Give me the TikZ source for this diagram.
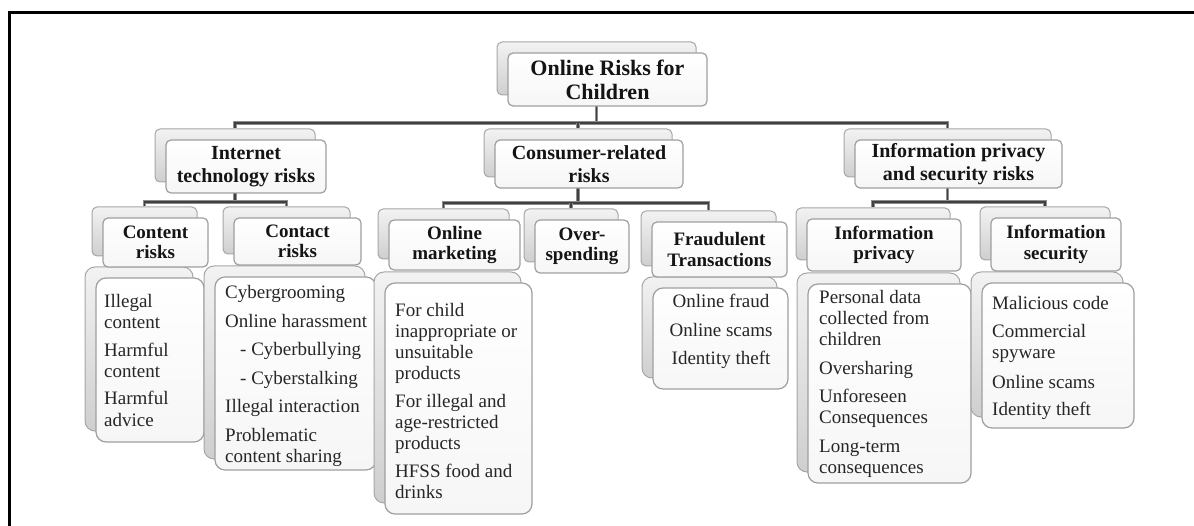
\documentclass[tikz,border=0pt]{standalone}
\usepackage{fontspec}
\setmainfont{Liberation Serif}
\usetikzlibrary{backgrounds}
\tikzset{
  x=1pt, y=-1pt,
  backbox/.style={draw=gray!70, line width=1pt, rounded corners=#1, top color=gray!10, bottom color=gray!38, inner sep=0pt},
  frontbox/.style={draw=gray!75, line width=1.2pt, rounded corners=#1, top color=white, bottom color=gray!7, inner sep=0pt, text=black!92, align=center},
  conn/.style={draw=black!45, line width=3.8pt, postaction={draw=black!75, line width=1.6pt}},
  itemtext/.style={inner sep=0pt, font=\fontsize{19}{21}\selectfont, text=black!85},
  frame/.style={draw=black, line width=3pt},
}
\newcommand{\pairbox}[8]{%
  \node[backbox=#6, minimum width={(#4-#2)*1pt}, minimum height={(#5-#3)*1pt}] (#1B) at ({(#2+#4)/2-11},{(#3+#5)/2-11}) {};
  \node[frontbox=#6, minimum width={(#4-#2)*1pt}, minimum height={(#5-#3)*1pt}, font=#7] (#1) at ({(#2+#4)/2},{(#3+#5)/2}) {#8};
}
\newcommand{\fa}{\fontsize{22}{24}\selectfont\bfseries}
\newcommand{\fb}{\fontsize{20}{22.5}\selectfont\bfseries}
\newcommand{\fc}{\fontsize{19}{20.5}\selectfont\bfseries}
\begin{document}
\begin{tikzpicture}
\useasboundingbox (0,0) rectangle (1194,526);
\coordinate (fA) at (9.5,526);
\coordinate (fB) at (9.5,12.5);
\coordinate (fC) at (1194,12.5);
\draw[frame] (fA) -- (fB) -- (fC);

% item boxes
\pairbox{contentI}{96}{278}{204}{442}{10pt}{}{}
\pairbox{contactI}{215}{277}{376}{470}{10pt}{}{}
\pairbox{omI}{385}{283}{532}{514}{10pt}{}{}
\pairbox{fraudI}{653}{288}{788}{389}{10pt}{}{}
\pairbox{privI}{808}{284}{971}{483}{10pt}{}{}
\pairbox{secI}{982}{283}{1134}{428}{10pt}{}{}

% headers
\pairbox{root}{508}{53}{707}{106}{5pt}{\fa}{Online Risks for\\Children}
\pairbox{it}{166}{140}{326}{193}{5pt}{\fb}{Internet\\technology risks}
\pairbox{cons}{495}{140}{683}{188}{5pt}{\fb}{Consumer-related\\risks}
\pairbox{info}{855}{140}{1062}{188}{5pt}{\fb}{Information privacy\\and security risks}
\pairbox{content}{103}{218}{208}{267}{5pt}{\fc}{Content\\risks}
\pairbox{contact}{234}{218}{361}{265}{5pt}{\fc}{Contact\\risks}
\pairbox{om}{389}{220}{520}{270}{5pt}{\fc}{Online\\marketing}
\pairbox{over}{535}{220}{629}{273}{5pt}{\fc}{Over-\\spending}
\pairbox{fraud}{652}{222}{787}{277}{5pt}{\fc}{Fraudulent\\Transactions}
\pairbox{priv}{807}{219}{961}{271}{5pt}{\fc}{Information\\privacy}
\pairbox{sec}{991}{218}{1121}{271}{5pt}{\fc}{Information\\security}

% item texts (anchored at the baseline of their last line)
\node[itemtext, anchor=base west, align=left] (contentT) at (104,426)
  {Illegal\\content\\[7pt]Harmful\\content\\[7pt]Harmful\\advice};
\node[itemtext, anchor=base west, align=left] (contactT) at (225,462)
  {Cybergrooming\\[7.5pt]Online harassment\\[7.5pt]\hspace*{15pt}- Cyberbullying\\[7.5pt]\hspace*{15pt}- Cyberstalking\\[7.5pt]Illegal interaction\\[7.5pt]Problematic\\content sharing};
\node[itemtext, anchor=base west, align=left] (omT) at (395,498)
  {For child\\inappropriate or\\unsuitable\\products\\[7pt]For illegal and\\age-restricted\\products\\[7pt]HFSS food and\\drinks};
\node[itemtext, anchor=base, align=center] (fraudT) at (721,365)
  {Online fraud\\[7.5pt]Online scams\\[7.5pt]Identity theft};
\node[itemtext, anchor=base west, align=left] (privT) at (819,473)
  {Personal data\\collected from\\children\\[8pt]Oversharing\\[7pt]Unforeseen\\Consequences\\[8pt]Long-term\\consequences};
\node[itemtext, anchor=base west, align=left] (secT) at (992,416)
  {Malicious code\\[8pt]Commercial\\spyware\\[8pt]Online scams\\[7pt]Identity theft};

% connectors
\begin{scope}[on background layer]
\coordinate (bus0) at (0,123);
\coordinate (bus1) at (0,202);
\coordinate (bus2) at (0,203);
\draw[conn] (rootB.south) -- (rootB.south |- bus0);
\draw[conn] (itB.north) -- (itB.north |- bus0) -- (infoB.north |- bus0) -- (infoB.north);
\draw[conn] (consB.north) -- (consB.north |- bus0);
\draw[conn] (itB.south) -- (itB.south |- bus1);
\draw[conn] (contentB.north) -- (contentB.north |- bus1) -- (contactB.north |- bus1) -- (contactB.north);
\draw[conn] (consB.south) -- (consB.south |- bus2);
\draw[conn] (omB.north) -- (omB.north |- bus2) -- (fraudB.north |- bus2) -- (fraudB.north);
\draw[conn] (overB.north) -- (overB.north |- bus2);
\draw[conn] (infoB.south) -- (infoB.south |- bus1);
\draw[conn] (privB.north) -- (privB.north |- bus1) -- (secB.north |- bus1) -- (secB.north);
\end{scope}
\end{tikzpicture}
\end{document}
